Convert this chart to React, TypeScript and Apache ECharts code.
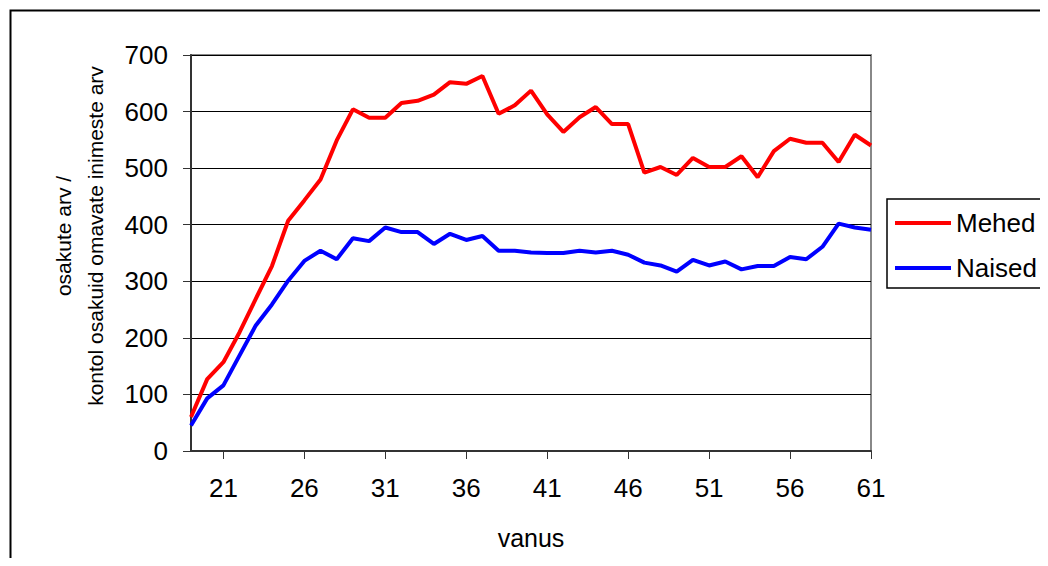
import React, { useEffect, useRef } from "react";
import * as echarts from "echarts";

const ages = ["19","20","21","22","23","24","25","26","27","28","29","30","31","32","33","34","35","36","37","38","39","40","41","42","43","44","45","46","47","48","49","50","51","52","53","54","55","56","57","58","59","60","61"];
const mehed = [60,127,157,210,269,327,407,443,480,549,604,589,589,615,619,630,652,649,663,596,611,637,595,564,590,608,578,578,492,502,488,518,502,502,521,484,530,552,545,545,511,559,540];
const naised = [45,93,116,169,222,259,301,336,354,339,376,371,395,387,387,366,384,373,380,354,354,351,350,350,354,351,354,347,333,328,317,338,328,335,321,327,327,343,339,361,402,395,391];
const seriesNames = ["Mehed", "Naised"];
const yTitle = "osakute arv /\nkontol osakuid omavate inimeste arv";
const xTitle = "vanus";

const FONT = "'Liberation Sans', Arial, sans-serif";

export default function App() {
  const ref = useRef<HTMLDivElement>(null);
  useEffect(() => {
    document.documentElement.style.overflow = "hidden";
    const chart = echarts.init(ref.current!, null, { renderer: "svg" });
    const showIdx = (i: number) => (i - 2) % 5 === 0 && i >= 2;
    chart.setOption({
      animation: false,
      backgroundColor: "#fff",
      textStyle: { fontFamily: FONT },
      grid: {
        left: 183, top: 47, width: 680, height: 396,
        show: true, borderColor: "#888", borderWidth: 2, backgroundColor: "transparent",
      },
      legend: {
        orient: "vertical",
        left: 879, top: 191,
        padding: [11, 20, 7, 8],
        itemGap: 19,
        icon: "rect",
        itemWidth: 56, itemHeight: 4,
        borderWidth: 0,
        textStyle: { fontSize: 26, color: "#000", fontFamily: FONT },
        data: seriesNames,
      },
      xAxis: {
        type: "category",
        data: ages,
        boundaryGap: false,
        name: xTitle,
        nameLocation: "middle",
        nameGap: 74,
        nameTextStyle: { fontSize: 25, color: "#000", fontFamily: FONT },
        axisLine: { lineStyle: { color: "#333", width: 2 } },
        axisTick: { show: true, interval: (i: number) => showIdx(i), length: 8, lineStyle: { color: "#333", width: 1 } },
        axisLabel: { interval: (i: number) => showIdx(i), fontSize: 26, color: "#000", margin: 24, fontFamily: FONT },
        splitLine: { show: false },
      },
      yAxis: {
        type: "value",
        min: 0, max: 700, interval: 100,
        axisLine: { show: true, lineStyle: { color: "#333", width: 2 } },
        axisTick: { show: true, length: 8, lineStyle: { color: "#333", width: 1 } },
        axisLabel: { fontSize: 26, color: "#000", margin: 23, fontFamily: FONT },
        splitLine: { show: true, lineStyle: { color: "#000", width: 1 } },
      },
      graphic: [
        { type: "rect", left: 0, top: 0, shape: { x: 1, y: 1, width: 1100, height: 700 }, style: { fill: "none", stroke: "#000", lineWidth: 2 }, silent: true, z: 100 },
        { type: "rect", shape: { x: 879, y: 191, width: 300, height: 89 }, style: { fill: "none", stroke: "#000", lineWidth: 1.5 }, silent: true, z: 100 },
        {
          type: "text", x: 71, y: 228, rotation: Math.PI / 2,
          style: { text: yTitle, fontSize: 21, lineHeight: 32, fill: "#000", align: "center", verticalAlign: "middle", fontFamily: FONT },
        },
      ],
      series: [
        { name: seriesNames[0], type: "line", data: mehed, symbol: "none", lineStyle: { color: "#ff0000", width: 4 }, itemStyle: { color: "#ff0000" } },
        { name: seriesNames[1], type: "line", data: naised, symbol: "none", lineStyle: { color: "#0000ff", width: 4 }, itemStyle: { color: "#0000ff" } },
      ],
    });
    return () => chart.dispose();
  }, []);
  return <div ref={ref} style={{ width: 1040, height: 550 }} />;
}
